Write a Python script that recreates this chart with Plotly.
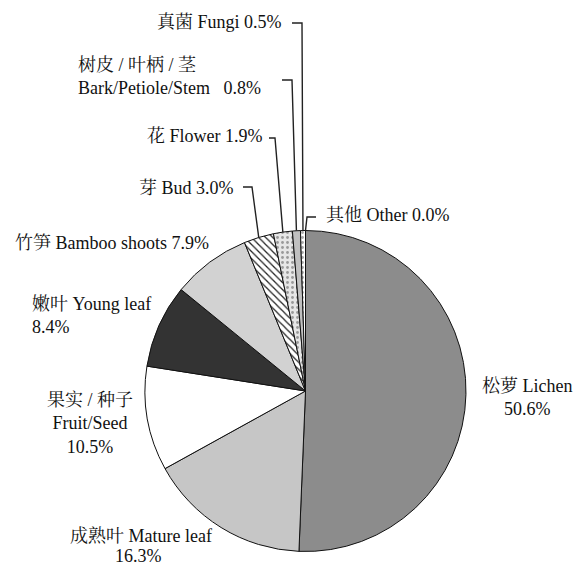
import math
import plotly.graph_objects as go

# ---- data ----
categories = ["松萝 Lichen", "成熟叶 Mature leaf", "果实 / 种子 Fruit/Seed", "嫩叶 Young leaf",
              "竹笋 Bamboo shoots", "芽 Bud", "花 Flower", "树皮 / 叶柄 / 茎 Bark/Petiole/Stem",
              "真菌 Fungi", "其他 Other"]
values = [50.6, 16.3, 10.5, 8.4, 7.9, 3.0, 1.9, 0.8, 0.5, 0.0]
value_labels = ["50.6%", "16.3%", "10.5%", "8.4%", "7.9%", "3.0%", "1.9%", "0.8%", "0.5%", "0.0%"]

# ---- styling ----
W, H = 582, 568
colors = ["#8c8c8c", "#c6c6c6", "#ffffff", "#333333", "#d2d2d2",
          "#ffffff", "#e6e6e6", "#c0c0c0", "#ffffff", "#ffffff"]
shapes_pat = ["", "", "", "", "", "\\", ".", "", ".", ""]
pat_fg = ["#000", "#000", "#000", "#000", "#000", "#222222", "#999999", "#000", "#aaaaaa", "#000"]

# pie geometry in pixels
CX, CY, R = 305.5, 391.0, 160.5

def px(x):
    return x / W

def py(y):
    return 1 - y / H

fig = go.Figure()
fig.add_trace(go.Pie(
    labels=categories, values=values, sort=False, direction="clockwise", rotation=0,
    textinfo="none", hoverinfo="label+percent", showlegend=False,
    marker=dict(colors=colors, line=dict(color="#111111", width=1),
                pattern=dict(shape=shapes_pat, fgcolor=pat_fg, bgcolor=colors,
                             size=5, solidity=0.25)),
    domain=dict(x=[px(CX - R), px(CX + R)], y=[py(CY + R), py(CY - R)]),
))

FONT = dict(family="Liberation Serif, 'Noto Serif CJK SC', 'Noto Sans CJK SC', serif", size=18, color="#111111")

def ann(text, x, y, xanchor="left", align="left"):
    fig.add_annotation(text=text, x=px(x), y=py(y), xref="paper", yref="paper",
                       xanchor=xanchor, yanchor="middle", align=align, showarrow=False,
                       font=FONT)

# labels for the larger slices
ann("松萝 Lichen<br>" + value_labels[0], 527, 397, xanchor="center", align="center")
ann("成熟叶 Mature leaf", 68, 536)
ann(value_labels[1], 138, 556, xanchor="center", align="center")
ann("果实 / 种子<br>Fruit/Seed<br>" + value_labels[2], 90, 423, xanchor="center", align="center")
ann("嫩叶 Young leaf<br>" + value_labels[3], 30, 315)
ann("竹笋 Bamboo shoots " + value_labels[4], 13, 243)

# small slices with leader lines
ann("芽 Bud " + value_labels[5], 236, 188, xanchor="right", align="right")
ann("花 Flower " + value_labels[6], 265, 136, xanchor="right", align="right")
ann("树皮 / 叶柄 / 茎<br>Bark/Petiole/Stem   " + value_labels[7], 76, 77)
ann("真菌 Fungi " + value_labels[8], 284, 22, xanchor="right", align="right")
ann("其他 Other " + value_labels[9], 324, 215)

leaders = [  # slice index, stub start x, stub y, elbow x
    (5, 243, 187, 252),
    (6, 269, 138, 275),
    (7, 282, 80, 292),
    (8, 292, 23, 302),
    (9, 316, 217, 307),
]
total = sum(values)
cum = [sum(values[:i]) for i in range(len(values))]
for idx, sx, sy, ex in leaders:
    mid = (cum[idx] + values[idx] / 2) / total * 2 * math.pi
    ux = CX + R * math.sin(mid)
    uy = CY - R * math.cos(mid)
    path = f"M {px(sx)},{py(sy)} L {px(ex)},{py(sy)} L {px(ux)},{py(uy)}"
    fig.add_shape(type="path", path=path, xref="paper", yref="paper",
                  line=dict(color="#222222", width=1.4))

fig.update_layout(width=W, height=H, margin=dict(l=0, r=0, t=0, b=0),
                  paper_bgcolor="white", plot_bgcolor="white")
fig.write_html("out.html", config={"displayModeBar": False},
               post_script="document.body.style.margin='0';document.body.style.overflow='hidden';")
